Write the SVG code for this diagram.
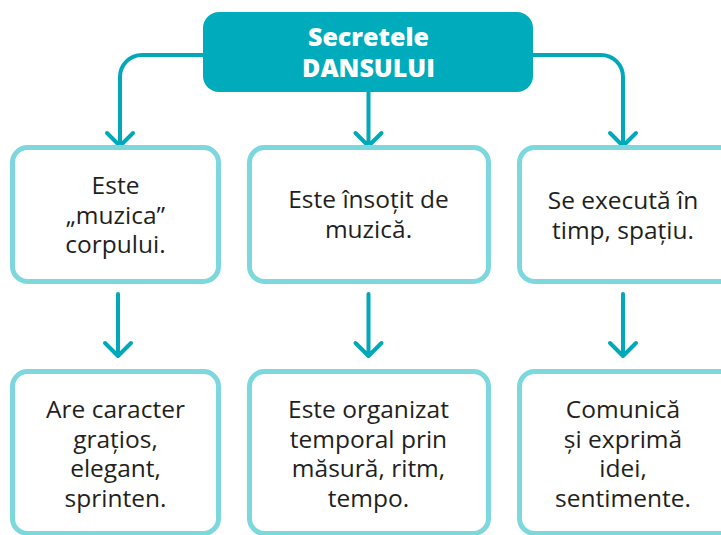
<svg xmlns="http://www.w3.org/2000/svg" width="721" height="535" viewBox="0 0 721 535">
<style>
.box{fill:#fff;stroke:#7dd8dd;stroke-width:5}
.t{font-family:"Open Sans","Noto Sans",sans-serif;font-size:24.5px;fill:#231f20;text-anchor:middle}
.h{font-family:"Open Sans","Noto Sans",sans-serif;font-size:25px;font-weight:800;fill:#fff;text-anchor:middle}
.c{fill:none;stroke:#00a9b9;stroke-width:4;stroke-linecap:round;stroke-linejoin:round}
</style>
<rect width="721" height="535" fill="#fff"/>
<g id="connectors">
<path class="c" d="M203 55 H142 A22 22 0 0 0 120 77 V146 M107 133 L120 146 L133 133"/>
<path class="c" d="M368.5 92 V146 M355.5 133 L368.5 146 L381.5 133"/>
<path class="c" d="M533 55 H601 A22 22 0 0 1 623 77 V146 M610 133 L623 146 L636 133"/>
<path class="c" d="M118 294 V356 M105 343 L118 356 L131 343"/>
<path class="c" d="M368.5 294 V356 M355.5 343 L368.5 356 L381.5 343"/>
<path class="c" d="M623 294 V356 M610 343 L623 356 L636 343"/>
</g>
<g id="top">
<rect x="203" y="12" width="330" height="80" rx="16" fill="#00acbb"/>
<text class="h" x="368.5" y="46">Secretele</text>
<text class="h" x="368.5" y="77">DANSULUI</text>
</g>
<g id="n1">
<rect class="box" x="12.5" y="147.5" width="206" height="134" rx="15"/>
<text class="t" x="115.5" y="194">Este</text>
<text class="t" x="115.5" y="223.5">„muzica”</text>
<text class="t" x="115.5" y="253">corpului.</text>
</g>
<g id="n2">
<rect class="box" x="249.5" y="147.5" width="239" height="134" rx="15"/>
<text class="t" x="368.5" y="208">Este însoțit de</text>
<text class="t" x="368.5" y="238">muzică.</text>
</g>
<g id="n3">
<rect class="box" x="519.5" y="147.5" width="220" height="134" rx="15"/>
<text class="t" x="623" y="209">Se execută în</text>
<text class="t" x="623" y="239">timp, spațiu.</text>
</g>
<g id="n4">
<rect class="box" x="12.5" y="371.5" width="206" height="162" rx="15"/>
<text class="t" x="115.5" y="418">Are caracter</text>
<text class="t" x="115.5" y="447.5">grațios,</text>
<text class="t" x="115.5" y="477">elegant,</text>
<text class="t" x="115.5" y="506.5">sprinten.</text>
</g>
<g id="n5">
<rect class="box" x="249.5" y="371.5" width="239" height="162" rx="15"/>
<text class="t" x="368.5" y="418">Este organizat</text>
<text class="t" x="368.5" y="447.5">temporal prin</text>
<text class="t" x="368.5" y="477">măsură, ritm,</text>
<text class="t" x="368.5" y="506.5">tempo.</text>
</g>
<g id="n6">
<rect class="box" x="519.5" y="371.5" width="220" height="162" rx="15"/>
<text class="t" x="623" y="418">Comunică</text>
<text class="t" x="623" y="447.5">și exprimă</text>
<text class="t" x="623" y="477">idei,</text>
<text class="t" x="623" y="506.5">sentimente.</text>
</g>
</svg>
